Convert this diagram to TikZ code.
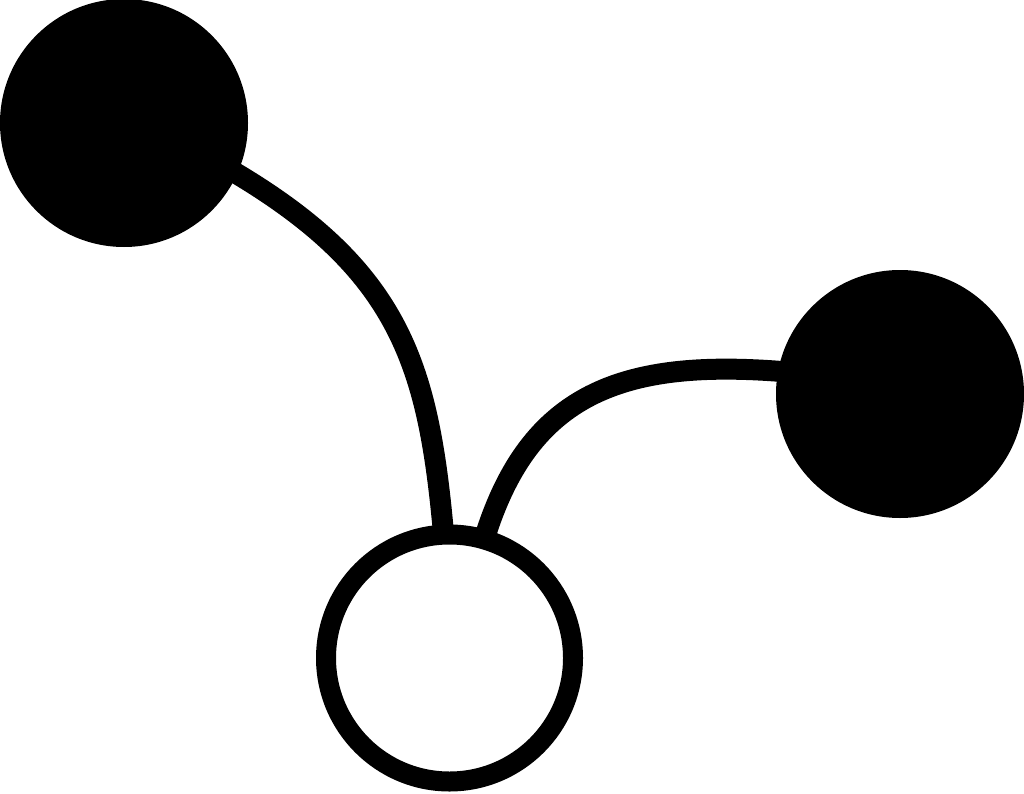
\documentclass[tikz,border=0pt]{standalone}
\usetikzlibrary{calc}
\pgfdeclarelayer{background}
\pgfsetlayers{background,main}
\begin{document}
\begin{tikzpicture}[x=1pt,y=1pt,
  dot/.style={circle,fill=black,draw=none,minimum size=248pt,inner sep=0pt,outer sep=0pt},
  ring/.style={circle,draw=black,fill=white,line width=20pt,minimum size=247pt,inner sep=0pt},
  edge/.style={draw=black,line width=21pt}]
\useasboundingbox (0,0) rectangle (1024,-794);
\node[dot] (a) at (124,-123) {};
\node[dot] (b) at (900,-394) {};
\node[ring] (c) at (449.5,-658) {};
\begin{pgfonlayer}{background}
\draw[edge] ($(a.center)+(-23.9:118)$) .. controls (400,-270) and (428,-365) .. ($(c.center)+(92.8:128)$);
\draw[edge] ($(c.center)+(73.7:128)$) .. controls (530,-395) and (620,-358) .. ($(b.center)+(169:116)$);
\end{pgfonlayer}
\end{tikzpicture}
\end{document}
